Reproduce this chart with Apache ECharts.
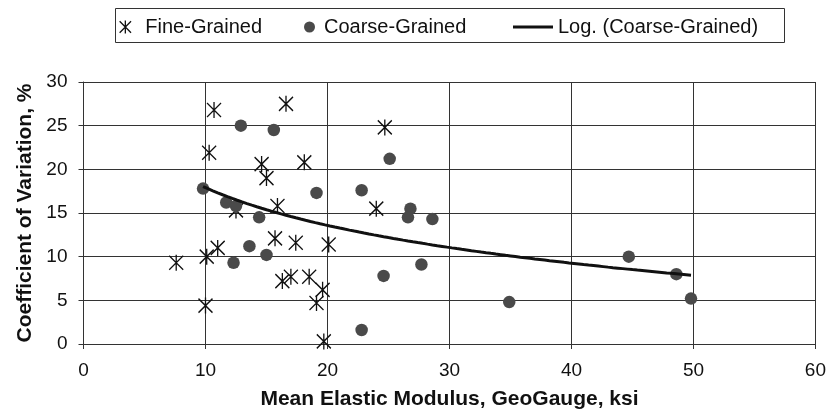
<!DOCTYPE html>
<html>
<head>
<meta charset="utf-8">
<script src="https://cdn.jsdelivr.net/npm/echarts@6/dist/echarts.min.js"></script>
<style>
  html, body { margin: 0; padding: 0; background: #ffffff; }
  #chart { width: 829px; height: 415px; }
</style>
</head>
<body>
<div id="chart"></div>
<script>
// Fine-grained sites: mean modulus (ksi) and coefficient of variation (%)
const fineX = [10.7, 16.6, 24.7, 10.3, 14.6, 18.1, 15.0, 15.9, 24.0, 12.5, 15.7, 17.4,
               20.1, 11.0, 10.1, 7.6, 16.3, 17.0, 18.5, 19.6, 19.1, 10.0, 19.7];
const fineY = [26.8, 27.5, 24.8, 21.9, 20.6, 20.8, 19.0, 15.8, 15.5, 15.3, 12.1, 11.6,
               11.4, 11.0, 10.0, 9.3, 7.2, 7.7, 7.7, 6.2, 4.7, 4.4, 0.3];

// Coarse-grained sites
const coarseX = [9.8, 11.7, 12.5, 12.9, 14.4, 15.6, 13.6, 12.3, 15.0, 19.1, 22.8,
                 25.1, 26.8, 26.6, 28.6, 27.7, 24.6, 22.8, 34.9, 44.7, 48.6, 49.8];
const coarseY = [17.8, 16.2, 15.8, 25.0, 14.5, 24.5, 11.2, 9.3, 10.2, 17.3, 17.6,
                 21.2, 15.5, 14.5, 14.3, 9.1, 7.8, 1.6, 4.8, 10.0, 8.0, 5.2];

// Axis ranges and tick steps
const xRange = [0, 60], xStep = 10;
const yRange = [0, 30], yStep = 5;

const seriesNames = ['Fine-Grained', 'Coarse-Grained', 'Log. (Coarse-Grained)'];

// Least-squares fit of y = a*ln(x) + b
function logFit(xs, ys) {
  const n = xs.length;
  const lx = xs.map(Math.log);
  const mL = lx.reduce((s, v) => s + v, 0) / n;
  const mY = ys.reduce((s, v) => s + v, 0) / n;
  let sxy = 0, sxx = 0;
  for (let i = 0; i < n; i++) {
    sxy += (lx[i] - mL) * (ys[i] - mY);
    sxx += (lx[i] - mL) * (lx[i] - mL);
  }
  const a = sxy / sxx;
  return { a: a, b: mY - a * mL };
}

const fit = logFit(coarseX, coarseY);
const xLo = Math.min.apply(null, coarseX), xHi = Math.max.apply(null, coarseX);
const trend = [];
for (let i = 0; i <= 100; i++) {
  const x = xLo + (xHi - xLo) * i / 100;
  trend.push([x, fit.a * Math.log(x) + fit.b]);
}

const pairs = (xs, ys) => xs.map((x, i) => [x, ys[i]]);

const FONT = '"Liberation Sans", Arial, Helvetica, sans-serif';
const INK = '#111111';
const GRID = '#333333';
const STAR = 'path://M0,0L14,14M0,14L14,0M7,-1L7,15';
const BAR = 'path://M0,0H40V3H0Z';

const legendBase = {
  top: 17,
  padding: 0,
  itemHeight: 15,
  selectedMode: false,
  textStyle: { fontFamily: FONT, fontSize: 20, color: INK }
};

const chart = echarts.init(document.getElementById('chart'), null, { renderer: 'canvas' });
chart.setOption({
  animation: false,
  backgroundColor: '#ffffff',
  textStyle: { fontFamily: FONT },
  grid: { left: 83.5, right: 13, top: 82, bottom: 70.5, containLabel: false },
  legend: [
    Object.assign({}, legendBase, {
      left: 119, itemWidth: 30, itemHeight: 13, data: [seriesNames[0]],
      itemStyle: { borderWidth: 1.3, borderColor: INK, opacity: 1 }
    }),
    Object.assign({}, legendBase, {
      left: 304, itemWidth: 19, itemHeight: 11, data: [seriesNames[1]],
      itemStyle: { opacity: 1 }
    }),
    Object.assign({}, legendBase, {
      left: 513, itemWidth: 40, data: [{ name: seriesNames[2], icon: BAR }],
      itemStyle: { color: INK, opacity: 1 }
    })
  ],
  graphic: [{
    type: 'rect',
    shape: { x: 115.5, y: 8.5, width: 669, height: 34 },
    style: { fill: 'none', stroke: GRID, lineWidth: 1 },
    silent: true,
    z: -1
  }],
  xAxis: {
    type: 'value',
    min: xRange[0], max: xRange[1], interval: xStep,
    name: 'Mean Elastic Modulus, GeoGauge, ksi',
    nameLocation: 'middle',
    nameGap: 45,
    nameTextStyle: { fontFamily: FONT, fontSize: 21, fontWeight: 'bold', color: INK },
    axisLine: { show: true, onZero: false, lineStyle: { color: GRID, width: 1 } },
    axisTick: { show: true, length: 5, lineStyle: { color: GRID, width: 1 } },
    axisLabel: { fontFamily: FONT, fontSize: 19, color: INK, margin: 17 },
    splitLine: { show: true, lineStyle: { color: GRID, width: 1 } }
  },
  yAxis: {
    type: 'value',
    min: yRange[0], max: yRange[1], interval: yStep,
    name: 'Coefficient of Variation, %',
    nameLocation: 'middle',
    nameGap: 48,
    nameTextStyle: { fontFamily: FONT, fontSize: 21, fontWeight: 'bold', color: INK },
    axisLine: { show: true, onZero: false, lineStyle: { color: GRID, width: 1 } },
    axisTick: { show: true, length: 5, lineStyle: { color: GRID, width: 1 } },
    axisLabel: { fontFamily: FONT, fontSize: 19, color: INK, margin: 16 },
    splitLine: { show: true, lineStyle: { color: GRID, width: 1 } }
  },
  series: [
    {
      name: seriesNames[0],
      type: 'scatter',
      symbol: STAR,
      symbolSize: [14, 16],
      itemStyle: { color: 'rgba(0,0,0,0)', borderColor: INK, borderWidth: 1.4, opacity: 1 },
      data: pairs(fineX, fineY),
      z: 2
    },
    {
      name: seriesNames[1],
      type: 'scatter',
      symbol: 'circle',
      symbolSize: 12.5,
      itemStyle: { color: '#4a4a4a', opacity: 1 },
      data: pairs(coarseX, coarseY),
      z: 3
    },
    {
      name: seriesNames[2],
      type: 'line',
      showSymbol: false,
      symbol: 'none',
      smooth: false,
      lineStyle: { color: INK, width: 3 },
      itemStyle: { color: INK },
      data: trend,
      z: 4
    }
  ]
});
</script>
</body>
</html>
